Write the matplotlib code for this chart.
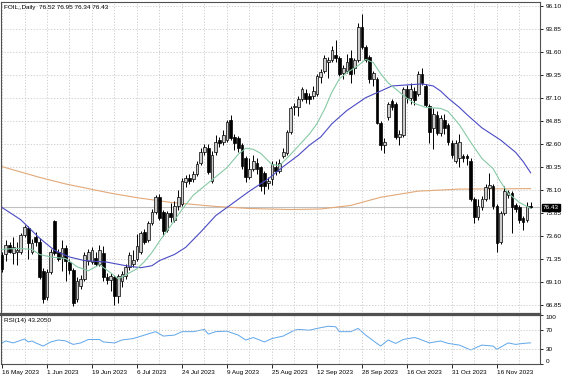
import matplotlib
matplotlib.use("Agg")
import matplotlib.pyplot as plt

plt.rcParams["font.family"] = ["Liberation Sans", "DejaVu Sans"]

# daily candles (bar 0 = 16 May 2023)
opens = [71.72, 71.89, 72.72, 71.9, 72.0, 72.05, 73.7, 74.4, 72.05, 73.55,
         73.05, 70.2, 67.6, 70.1, 75.05, 72.05, 71.55, 72.4, 71.06, 70.23,
         67.4, 68.75, 69.4, 71.2, 71.06, 71.5, 70.9, 71.9, 69.6, 69.3,
         69.57, 67.7, 69.2, 69.7, 70.56, 70.9, 71.4, 72.0, 74.0, 73.2,
         74.9, 76.0, 77.4, 76.0, 74.2, 75.9, 75.2, 76.5, 76.7, 78.9,
         79.3, 79.2, 79.7, 80.8, 81.8, 82.2, 79.0, 81.8, 83.0, 82.8,
         83.0, 85.0, 83.3, 83.2, 82.5, 81.2, 79.35, 80.2, 80.8, 80.35,
         79.8, 78.8, 79.2, 80.4, 80.0, 81.4, 81.7, 83.8, 86.2, 86.2,
         87.0, 87.6, 87.3, 87.3, 87.5, 89.2, 89.8, 90.6, 90.8, 91.3,
         91.0, 89.6, 89.8, 91.0, 90.1, 90.8, 94.1, 92.1, 91.1, 89.0,
         89.0, 84.7, 82.5, 85.3, 86.8, 86.5, 83.3, 83.5, 88.0, 87.1,
         87.8, 87.5, 89.5, 88.3, 86.3, 84.2, 85.5, 83.7, 85.0, 84.5,
         82.7, 81.0, 81.2, 81.4, 81.4, 81.0, 77.2, 75.5, 76.4, 77.2,
         78.3, 78.5, 76.5, 73.0, 75.9, 77.6, 77.8, 76.6, 76.4, 75.4,
         75.2, 76.52]
highs = [72.0, 73.2, 73.0, 73.55, 73.05, 73.9, 74.7, 74.6, 73.3, 74.0,
         73.4, 70.5, 70.4, 72.3, 75.2, 72.3, 73.2, 72.7, 71.4, 70.5,
         69.6, 69.8, 72.0, 72.3, 72.5, 72.0, 72.7, 72.6, 70.0, 70.0,
         69.8, 69.9, 70.2, 70.9, 72.0, 72.2, 73.8, 74.1, 74.3, 75.1,
         76.3, 77.6, 77.7, 76.2, 76.1, 76.8, 77.0, 78.1, 79.3, 79.6,
         79.7, 80.0, 81.0, 82.2, 82.6, 82.6, 81.9, 83.5, 83.3, 84.0,
         85.0, 85.5, 83.6, 83.4, 82.7, 81.4, 81.2, 81.5, 81.2, 80.5,
         80.0, 79.4, 81.0, 81.0, 81.1, 82.2, 84.0, 86.3, 86.6, 87.3,
         88.2, 88.0, 87.6, 88.3, 89.5, 90.0, 91.3, 91.1, 92.2, 92.8,
         91.2, 90.4, 91.4, 91.8, 91.0, 94.5, 95.3, 92.3, 91.3, 89.8,
         89.2, 84.9, 83.2, 86.7, 87.0, 86.7, 84.0, 88.2, 88.4, 88.6,
         88.2, 89.8, 90.1, 88.5, 86.5, 86.1, 85.8, 85.5, 85.6, 84.7,
         83.0, 83.0, 83.6, 81.6, 81.6, 81.2, 77.4, 77.2, 77.5, 78.7,
         79.8, 78.7, 76.7, 76.1, 78.5, 78.1, 78.0, 76.8, 76.6, 75.6,
         76.9, 76.95]
lows = [70.1, 71.2, 71.9, 70.9, 70.73, 71.8, 73.5, 71.4, 71.8, 72.6,
        69.4, 67.0, 67.3, 69.9, 71.7, 71.2, 70.2, 69.2, 69.9, 66.8,
        67.1, 68.4, 69.2, 70.8, 70.9, 70.7, 70.7, 69.2, 68.9, 68.2,
        66.9, 67.0, 68.6, 69.4, 70.3, 70.6, 71.2, 71.8, 72.8, 73.0,
        74.7, 75.8, 75.2, 73.6, 74.0, 75.0, 75.0, 76.2, 76.5, 78.4,
        78.7, 78.9, 79.5, 80.6, 81.5, 79.7, 78.8, 81.5, 82.3, 82.5,
        82.8, 83.0, 82.0, 81.8, 80.2, 78.9, 79.2, 80.0, 79.7, 78.0,
        77.7, 78.2, 78.6, 79.6, 79.8, 81.2, 81.5, 83.6, 85.5, 85.4,
        86.8, 86.6, 86.5, 87.0, 87.3, 88.6, 89.6, 89.1, 90.6, 90.6,
        89.3, 89.0, 89.6, 88.6, 89.5, 90.6, 91.9, 90.6, 88.6, 88.3,
        84.6, 82.0, 81.7, 85.0, 85.9, 83.1, 82.5, 83.3, 86.6, 86.5,
        86.4, 87.3, 88.4, 86.2, 82.7, 82.1, 83.5, 83.4, 83.6, 82.5,
        81.2, 80.8, 80.4, 80.9, 80.6, 77.0, 74.9, 75.2, 76.2, 77.0,
        77.2, 76.3, 72.05, 72.8, 75.7, 77.3, 73.9, 76.0, 74.9, 74.2,
        75.0, 76.34]
closes = [70.4, 72.72, 72.05, 72.55, 72.2, 73.7, 74.5, 72.9, 72.9, 73.05,
          69.6, 67.4, 70.1, 72.05, 71.9, 71.4, 72.4, 71.2, 70.23, 67.08,
          69.25, 69.4, 71.7, 72.05, 72.2, 70.9, 72.2, 69.6, 69.3, 69.7,
          67.74, 69.7, 69.9, 70.56, 71.7, 71.3, 72.6, 73.9, 73.05, 74.9,
          76.0, 77.4, 75.4, 74.05, 75.9, 75.5, 76.5, 77.4, 79.0, 79.3,
          79.0, 79.7, 80.7, 81.8, 82.3, 79.9, 81.5, 82.8, 82.7, 83.5,
          84.8, 83.2, 82.7, 82.2, 80.5, 79.35, 80.2, 81.0, 80.2, 78.5,
          78.5, 79.0, 80.7, 80.0, 80.8, 81.8, 83.8, 86.1, 86.3, 87.0,
          88.0, 87.0, 87.0, 87.8, 89.3, 89.7, 91.0, 90.8, 91.8, 91.0,
          89.5, 90.1, 90.6, 89.5, 90.8, 94.1, 92.1, 90.8, 89.0, 89.6,
          84.7, 82.5, 82.8, 86.5, 86.2, 83.3, 83.6, 88.0, 87.1, 88.0,
          86.9, 89.5, 88.6, 86.4, 83.8, 85.6, 83.7, 85.2, 84.2, 82.8,
          81.5, 82.7, 82.8, 81.2, 81.2, 77.2, 75.5, 76.5, 77.2, 78.4,
          78.6, 76.5, 72.9, 75.9, 78.0, 77.9, 76.4, 76.3, 75.2, 75.0,
          76.5, 76.43]

# moving averages as drawn on the chart (bar, value)
ma_fast_bar = [0, 4, 8, 10, 13, 17, 20, 23, 26, 29, 31, 33, 36, 38, 40, 42, 45, 48,
               51, 54, 57, 60, 63, 65, 67, 69, 72, 74, 77, 80, 82, 84, 86, 88, 90,
               92, 95, 97, 99, 101, 103, 105, 108, 110, 113, 117, 119, 122, 125,
               128, 131, 133, 135, 138, 141]
ma_fast = [72.3, 72.4, 72.3, 71.8, 71.55, 71.4, 70.6, 70.2, 70.8, 70.0, 69.4, 69.8,
           70.4, 71.1, 72.0, 73.1, 74.6, 76.2, 77.6, 78.5, 79.4, 80.3, 81.6, 82.2,
           82.1, 81.7, 80.6, 80.5, 81.6, 82.8, 83.6, 84.6, 86.0, 87.7, 89.0, 89.6,
           90.3, 90.9, 90.6, 89.5, 88.6, 88.0, 87.1, 86.6, 86.2, 86.1, 85.8, 84.5,
           82.8, 81.2, 80.2, 78.9, 77.8, 76.9, 76.3]
ma_mid_bar = [0, 5, 10, 14, 18, 22, 28, 33, 37, 40, 42, 44, 46, 49, 53, 57, 60, 63,
              66, 71, 75, 79, 82, 85, 88, 92, 97, 101, 104, 108, 112, 115, 117, 119,
              122, 124, 128, 133, 137, 139, 141]
ma_mid = [76.4, 75.2, 73.4, 72.2, 71.55, 71.2, 71.05, 70.7, 70.5, 70.7, 71.2, 71.5,
          71.8, 72.5, 74.0, 75.6, 76.4, 77.2, 78.0, 79.2, 80.4, 81.5, 82.5, 83.3,
          84.6, 85.9, 87.15, 87.8, 88.3, 88.4, 88.5, 88.3, 87.8, 87.1, 86.2, 85.5,
          84.2, 83.0, 81.8, 80.9, 79.8]
ma_slow_bar = [0, 10, 17, 29, 36, 45, 57, 66, 77, 85, 93, 101, 111, 122, 141]
ma_slow = [80.4, 79.35, 78.7, 77.8, 77.36, 76.9, 76.5, 76.3, 76.2, 76.25, 76.6,
           77.4, 78.0, 78.2, 78.25]

rsi_bar = [0, 1, 3, 6, 7, 8, 9, 11, 13, 15, 17, 19, 21, 23, 26, 27, 30, 32, 35, 38,
           41, 43, 46, 48, 51, 54, 55, 57, 60, 63, 65, 67, 70, 72, 75, 78, 79, 82,
           84, 87, 89, 90, 93, 95, 97, 100, 101, 103, 105, 107, 110, 111, 114, 117,
           119, 122, 125, 128, 131, 132, 135, 137, 139, 141]
rsi_val = [43, 47, 43, 51, 45, 47, 43, 36.6, 45, 49, 47, 40, 43, 50, 50, 45, 43, 49,
           52, 59, 66, 57, 59, 66, 66, 70.6, 61, 66, 67, 59, 49, 54, 45, 52, 57, 69,
           70.6, 69, 72.6, 77, 76, 66, 66, 72.6, 59, 42, 36.6, 49, 42, 50, 54, 52,
           43, 47, 42, 38.6, 28.6, 38.6, 36.6, 30, 43, 40, 42, 43.2]

date_ticks = [0, 12, 24, 36, 48, 60, 72, 84, 96, 108, 120, 132]
date_labels = ["16 May 2023", "1 Jun 2023", "19 Jun 2023", "6 Jul 2023",
               "24 Jul 2023", "9 Aug 2023", "25 Aug 2023", "12 Sep 2023",
               "28 Sep 2023", "16 Oct 2023", "31 Oct 2023", "16 Nov 2023"]
price_ticks = [96.10, 93.85, 91.60, 89.35, 87.10, 84.85, 82.60, 80.35,
               78.10, 75.85, 73.60, 71.35, 69.10, 66.85]
rsi_ticks = [100, 70, 30, 0]
last_price = 76.43

FS = 4.6
W, H = 564, 376
fig = plt.figure(figsize=(W / 100, H / 100), dpi=100)
ax = fig.add_axes([1 / W, 1 - 314 / H, 539 / W, 312 / H])
ax2 = fig.add_axes([1 / W, 1 - 364 / H, 539 / W, 49 / H])

grid_kw = dict(color="#c8c8c8", linestyle=(0, (1.5, 2)), linewidth=0.6)

# candles
n = len(closes)
bars = list(range(n))
up = [c >= o for o, c in zip(opens, closes)]
ax.vlines(bars, lows, highs, color="black", linewidth=0.7, zorder=3)
body_bot = [min(o, c) for o, c in zip(opens, closes)]
body_h = [max(abs(c - o), 0.06) for o, c in zip(opens, closes)]
ax.bar(bars, body_h, bottom=body_bot, width=0.72,
       color=["#cccccc" if u else "black" for u in up],
       edgecolor="black", linewidth=0.5, zorder=4)

ax.plot(ma_slow_bar, ma_slow, color="#e2a878", linewidth=0.8, zorder=2)
ax.plot(ma_mid_bar, ma_mid, color="#4a4ac4", linewidth=0.8, zorder=5)
ax.plot(ma_fast_bar, ma_fast, color="#86c9a6", linewidth=0.8, zorder=5)
ax.axhline(last_price, color="#c0c0c0", linewidth=0.8, zorder=1)

ax.set_xlim(-0.27, 143.5)
ax.set_ylim(65.97, 96.52)
ax.set_yticks(price_ticks)
ax.set_yticklabels([f"{p:.2f}" for p in price_ticks])
ax.yaxis.tick_right()
ax.set_xticks(range(0, 142, 6))
ax.tick_params(axis="x", length=0, labelbottom=False)
ax.tick_params(axis="y", labelsize=FS, length=2.5, pad=1.5, width=0.6)
ax.grid(True, **grid_kw)
ax.set_axisbelow(True)
for s in ax.spines.values():
    s.set_color("#505050")
    s.set_linewidth(0.8)
ax.spines["bottom"].set_linewidth(1.6)

ax.text(1.005, last_price, f"{last_price:.2f}", transform=ax.get_yaxis_transform(),
        fontsize=FS, color="white", va="center", ha="left",
        bbox=dict(boxstyle="square,pad=0.15", fc="black", ec="black"), zorder=10)
fig.text(4 / W, 1 - 7 / H, "FOIL,,Daily  76.52 76.95 76.34 76.43",
         fontsize=FS, va="center", ha="left")

# RSI panel
ax2.plot(rsi_bar, rsi_val, color="#5fa6ea", linewidth=0.7)
ax2.set_xlim(-0.27, 143.5)
ax2.set_ylim(0, 100)
ax2.set_yticks(rsi_ticks)
ax2.set_yticklabels([str(t) for t in rsi_ticks])
ax2.yaxis.tick_right()
ax2.tick_params(axis="y", labelsize=FS, length=2.5, pad=1.5, width=0.6)
labs = ax2.get_yticklabels()
labs[0].set_va("top")
labs[-1].set_va("bottom")
ax2.set_xticks(date_ticks)
ax2.set_xticklabels(date_labels, ha="left")
ax2.set_xticks([b for b in range(0, 142, 6) if b not in date_ticks], minor=True)
ax2.tick_params(axis="x", which="major", labelsize=FS, length=3, pad=1.5, width=0.6)
ax2.tick_params(axis="x", which="minor", length=0)
ax2.yaxis.grid(False)
for lvl in (70, 30):
    ax2.axhline(lvl, **grid_kw)
ax2.xaxis.grid(True, which="both", **grid_kw)
ax2.set_axisbelow(True)
for s in ax2.spines.values():
    s.set_color("#505050")
    s.set_linewidth(0.8)
ax2.spines["top"].set_linewidth(1.6)
ax2.text(3 / 539, 0.88, "RSI(14) 43.2050", transform=ax2.transAxes,
         fontsize=FS, va="center", ha="left")

fig.savefig("out.png", dpi=100)
